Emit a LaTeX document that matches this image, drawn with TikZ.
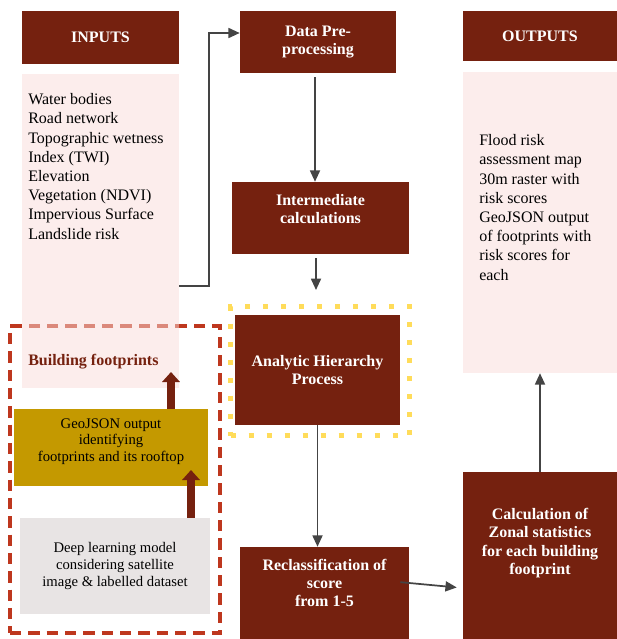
\documentclass[tikz,border=0pt]{standalone}
\usepackage{fontspec}
\setmainfont{Liberation Serif}
\usetikzlibrary{arrows.meta}
\definecolor{M}{RGB}{117, 33, 15}
\definecolor{P}{RGB}{249, 219, 217}
\definecolor{O}{RGB}{196, 153, 0}
\definecolor{S}{RGB}{232, 228, 228}
\definecolor{F}{RGB}{190, 55, 30}
\definecolor{Y}{RGB}{255, 220, 90}
\definecolor{K}{RGB}{68, 68, 68}

\tikzset{
   darkbox/.style={fill=M, text=white, font=\bfseries\fontsize{12}{13.8}\selectfont, align=center, inner sep=0pt},
   boxtext/.style={text=white, font=\bfseries\fontsize{12}{13.8}\selectfont, align=center, inner sep=0pt},
   pinkbox/.style={fill=P, fill opacity=0.5, inner sep=0pt},
   listtext/.style={font=\fontsize{12}{14.4}\selectfont, align=left, inner sep=0pt},
   smalltext/.style={font=\fontsize{11}{12.4}\selectfont, align=center, inner sep=0pt},
   flow/.style={K, line width=1.3pt, -{Triangle[length=8.5pt, width=7.5pt]}},
   bigflow/.style={M, line width=6pt, -{Triangle[length=7.5pt, width=13pt]}}
}

\begin{document}
\begin{tikzpicture}[x=0.75pt, y=-0.75pt]
   \useasboundingbox (0,0) rectangle (617,639);
   \node[draw=F, line width=2.8pt, dash pattern=on 8.5pt off 5.25pt, minimum width=157.5pt, minimum height=230pt, inner sep=0pt] (dlframe) at (115,479.5) {};
   \node[darkbox, minimum width=117.75pt, minimum height=39.75pt] (inhead) at (100.5,37.5) {INPUTS};
   \node[pinkbox, minimum width=117.75pt, minimum height=235.5pt] (inbox) at (100.5,231) {};
   \node[listtext, anchor=west] (inlist) at (28,166.5) {Water bodies\\Road network\\Topographic wetness\\Index (TWI)\\Elevation\\Vegetation (NDVI)\\Impervious Surface\\Landslide risk};
   \node[listtext, anchor=west, font=\bfseries\fontsize{12}{14.4}\selectfont, text=M] (fptext) at (28,362) {Building footprints};

   \node[darkbox, minimum width=117pt, minimum height=46.5pt] (data) at (318,42) {Data Pre-\\processing};
   \node[darkbox, minimum width=132.75pt, minimum height=54pt] (inter) at (320.5,218) {};
   \node[boxtext] (intertext) at (320.5,209) {Intermediate\\calculations};
   \node[draw=Y, line width=3.75pt, dash pattern=on 3.75pt off 9.75pt, minimum width=134.25pt, minimum height=96.75pt, inner sep=0pt] (ahpfocus) at (320,371) {};
   \node[darkbox, minimum width=123.75pt, minimum height=82.5pt] (ahp) at (317.5,370) {Analytic Hierarchy\\Process};
   \node[darkbox, minimum width=126.75pt, minimum height=69pt] (reclass) at (324.5,593) {};
   \node[boxtext] (reclasstext) at (324.5,583) {Reclassification of\\score\\from 1-5};

   \node[darkbox, minimum width=115.5pt, minimum height=37.5pt] (outhead) at (540,36) {OUTPUTS};
   \node[pinkbox, minimum width=115.5pt, minimum height=225.75pt] (outbox) at (540,222.5) {};
   \node[listtext, anchor=west] (outlist) at (479,207.5) {Flood risk\\assessment map\\30m raster with\\risk scores\\GeoJSON output\\of footprints with\\risk scores for\\each};
   \node[darkbox, minimum width=115.5pt, minimum height=125.25pt] (zonal) at (540,555.5) {};
   \node[boxtext] (zonaltext) at (540,543) {Calculation of\\Zonal statistics\\for each building\\footprint};

   \node[fill=O, minimum width=145.5pt, minimum height=57.75pt, inner sep=0pt] (geo) at (111,447.5) {};
   \node[smalltext] (geotext) at (111,441.5) {GeoJSON output\\identifying\\footprints and its rooftop};
   \node[fill=S, smalltext, minimum width=142.5pt, minimum height=72pt] (deep) at (115,566) {Deep learning model\\considering satellite\\image \& labelled dataset};

   \coordinate (fptip) at (171,372);
   \coordinate (geotip) at (191,470);
   \draw[bigflow] (geo.north -| fptip) -- (fptip);
   \draw[bigflow] (deep.north -| geotip) -- (geotip);

   \draw[flow] (inbox.east |- 0,286) -- ++(30,0) |- (data.west |- 0,33);
   \draw[flow, shorten <=3pt] (data.south -| 315,0) -- (inter.north -| 315,0);
   \draw[flow, shorten <=3pt, shorten >=10.5pt] (inter.south -| 316,0) -- (ahpfocus.north -| 316,0);
   \draw[flow] (ahp.south) -- (ahp.south |- reclass.north);
   \draw[flow, shorten <=-6.75pt, shorten >=4.5pt] (reclass.east |- reclasstext) -- (zonal.west |- 0,588);
   \draw[flow] (zonal.north) -- (outbox.south);
\end{tikzpicture}
\end{document}
